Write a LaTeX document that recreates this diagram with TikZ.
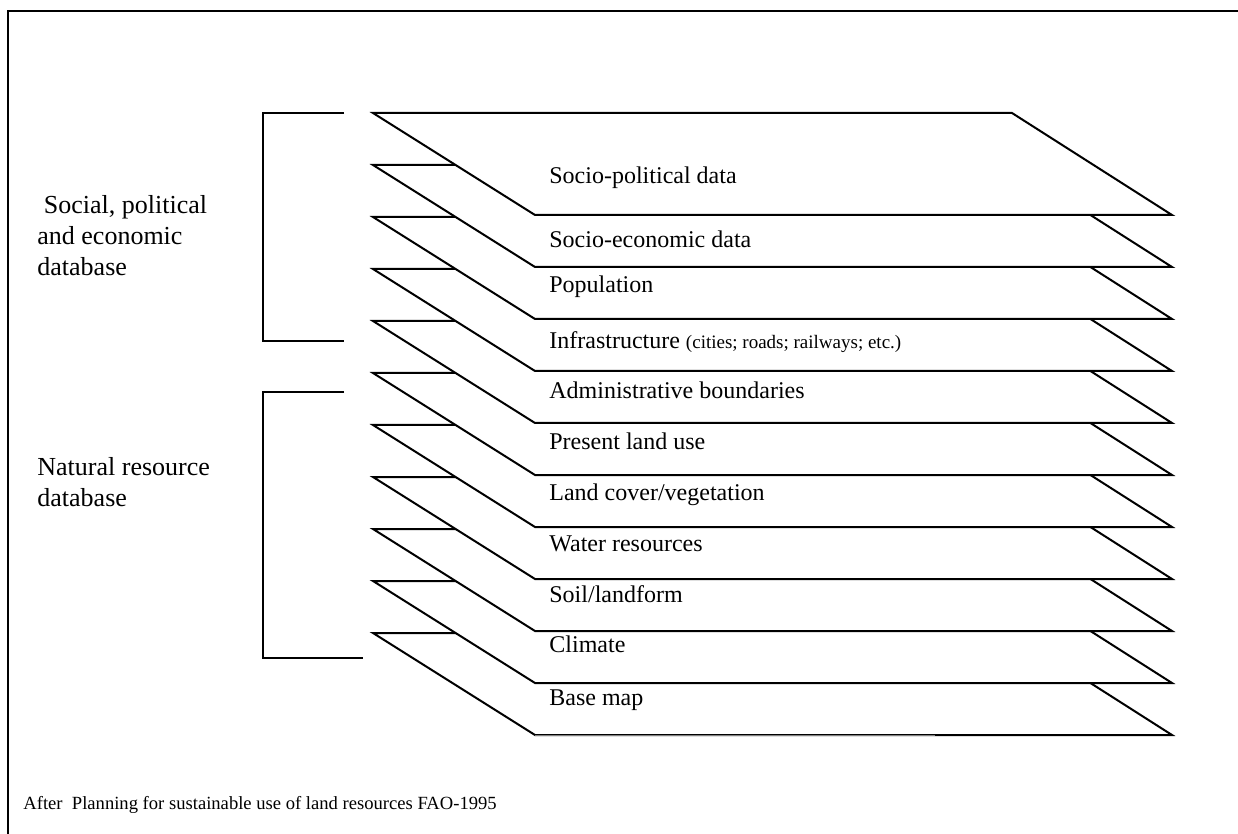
\documentclass[tikz,border=0pt]{standalone}
\usepackage{fontspec}
\setmainfont{Liberation Serif}
\usepackage{tikz}

\tikzset{
  layer/.style={draw, fill=white, line width=1pt, line join=miter},
  lbl/.style={anchor=west, inner sep=0pt, text height=8.5pt, text depth=2.5pt, font=\fontsize{12}{14.4}\selectfont},
  side/.style={anchor=west, inner sep=0pt, align=left, font=\fontsize{13}{15.5}\selectfont},
  brace/.style={draw, line width=1pt},
}

\begin{document}
\begin{tikzpicture}[x=0.5pt, y=-0.5pt]
        \useasboundingbox (0,0) rectangle (1238,834);
        \draw[line width=1.1pt] (1238,11) -- (8,11) -- (8,834);

        \fill[white] (373,633) -- (1012,633) -- (1172,735) -- (535,735) -- cycle;
        \draw[line width=1pt] (935,735) -- (535,735) -- (373,633) -- (1012,633) -- (1172,735) -- (935,735);
        \draw[line width=0.5pt, gray] (535,735) -- (935,735);
        \node[lbl] (l10) at (549,699) {Base map};

        \foreach \k/\ly/\txt in {9/646/Climate, 8/596/{Soil/landform}, 7/546/Water resources,
                6/495/{Land cover/vegetation}, 5/444/Present land use, 4/393/Administrative boundaries,
                3/343/{Infrastructure {\fontsize{9.5}{11}\selectfont (cities; roads; railways; etc.)}},
                2/287/Population, 1/242/Socio-economic data, 0/178/Socio-political data} {
            \draw[layer] (373,{113+52*\k}) -- ++(639,0) -- ++(160,102) -- ++(-637,0) -- cycle;
            \node[lbl] (l\k) at (549,\ly) {\txt};
        }

        \draw[brace] (344,113) -- (263,113) -- (263,341) -- (344,341);
        \draw[brace] (344,392) -- (263,392) -- (263,658) -- (363,658);

        \node[side] (soc) at (37,236) {\ Social, political\\and economic\\database};
        \node[side] (nat) at (37,482) {Natural resource\\database};
        \node[anchor=west, inner sep=0pt, font=\fontsize{9.3}{11}\selectfont] (note) at (23,805)
            {After\ \ Planning for sustainable use of land resources FAO-1995};
    \end{tikzpicture}
\end{document}
